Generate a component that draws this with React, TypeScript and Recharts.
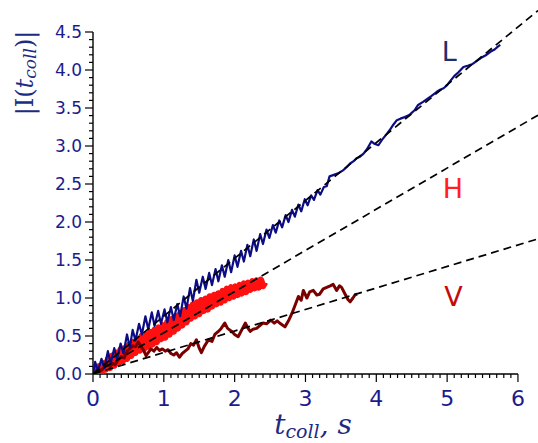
import React from 'react';
import { LineChart, Line, XAxis, YAxis, ReferenceLine, ReferenceDot } from 'recharts';

// |I(t_coll)| traces for the three orientations: [t, value]
const seriesL: [number, number][] = [
  [0.0, 0.0], [0.03, 0.16], [0.07, 0.04], [0.12, 0.2], [0.16, 0.08], [0.21, 0.3], [0.25, 0.14],
  [0.3, 0.34], [0.34, 0.19], [0.39, 0.4], [0.43, 0.27], [0.48, 0.52], [0.52, 0.35], [0.56, 0.58],
  [0.6, 0.44], [0.65, 0.66], [0.69, 0.52], [0.74, 0.76], [0.78, 0.59], [0.83, 0.81], [0.87, 0.63],
  [0.92, 0.83], [0.96, 0.66], [1.01, 0.85], [1.05, 0.68], [1.1, 0.88], [1.14, 0.71], [1.19, 0.92],
  [1.23, 0.76], [1.28, 1.02], [1.32, 0.86], [1.37, 1.13], [1.41, 0.96], [1.46, 1.24], [1.5, 1.07],
  [1.55, 1.28], [1.59, 1.12], [1.64, 1.33], [1.68, 1.17], [1.73, 1.38], [1.77, 1.22], [1.82, 1.43],
  [1.86, 1.28], [1.91, 1.5], [1.95, 1.34], [2.0, 1.56], [2.04, 1.41], [2.09, 1.62], [2.13, 1.48],
  [2.18, 1.7], [2.22, 1.55], [2.27, 1.77], [2.31, 1.62], [2.36, 1.84], [2.4, 1.71], [2.45, 1.9],
  [2.49, 1.79], [2.54, 1.96], [2.58, 1.86], [2.63, 2.02], [2.67, 1.93], [2.72, 2.09], [2.76, 2.0],
  [2.81, 2.16], [2.85, 2.07], [2.9, 2.23], [2.94, 2.14], [2.99, 2.3], [3.03, 2.22], [3.08, 2.35],
  [3.12, 2.29], [3.17, 2.42], [3.21, 2.36], [3.26, 2.46], [3.3, 2.47], [3.34, 2.6], [3.4, 2.62],
  [3.46, 2.64], [3.53, 2.68], [3.58, 2.72], [3.63, 2.77], [3.68, 2.8], [3.72, 2.84], [3.77, 2.86],
  [3.82, 2.9], [3.87, 2.96], [3.93, 3.06], [3.97, 3.03], [4.03, 3.01], [4.08, 3.08], [4.14, 3.15],
  [4.19, 3.21], [4.24, 3.28], [4.29, 3.34], [4.34, 3.36], [4.4, 3.38], [4.45, 3.4], [4.48, 3.42],
  [4.54, 3.47], [4.59, 3.54], [4.66, 3.58], [4.72, 3.62], [4.78, 3.66], [4.85, 3.71], [4.9, 3.74],
  [4.95, 3.76], [5.0, 3.8], [5.04, 3.85], [5.1, 3.92], [5.16, 3.97], [5.23, 4.04], [5.3, 4.06],
  [5.36, 4.08], [5.42, 4.12], [5.48, 4.16], [5.54, 4.19], [5.61, 4.24], [5.67, 4.27], [5.72, 4.31],
  [5.75, 4.33],
];

const seriesH: [number, number][] = [
  [0.0, 0.0], [0.03, 0.06], [0.06, 0.0], [0.09, 0.1], [0.12, 0.03], [0.15, 0.14], [0.18, 0.06],
  [0.21, 0.19], [0.24, 0.08], [0.27, 0.24], [0.3, 0.11], [0.33, 0.28], [0.36, 0.15], [0.39, 0.32],
  [0.42, 0.17], [0.45, 0.34], [0.48, 0.2], [0.51, 0.38], [0.54, 0.24], [0.57, 0.42], [0.6, 0.28],
  [0.63, 0.46], [0.66, 0.31], [0.69, 0.5], [0.72, 0.33], [0.75, 0.52], [0.78, 0.36], [0.81, 0.55],
  [0.84, 0.39], [0.87, 0.58], [0.9, 0.42], [0.93, 0.61], [0.96, 0.46], [0.99, 0.64], [1.02, 0.48],
  [1.05, 0.68], [1.08, 0.52], [1.11, 0.72], [1.14, 0.56], [1.17, 0.76], [1.2, 0.6], [1.23, 0.79],
  [1.26, 0.64], [1.29, 0.84], [1.32, 0.68], [1.35, 0.88], [1.38, 0.73], [1.41, 0.91], [1.44, 0.76],
  [1.47, 0.94], [1.5, 0.79], [1.53, 0.97], [1.56, 0.83], [1.59, 0.99], [1.62, 0.85], [1.65, 1.02],
  [1.68, 0.89], [1.71, 1.04], [1.74, 0.92], [1.77, 1.06], [1.8, 0.94], [1.83, 1.09], [1.86, 0.97],
  [1.89, 1.12], [1.92, 1.0], [1.95, 1.14], [1.98, 1.02], [2.01, 1.15], [2.04, 1.04], [2.07, 1.17],
  [2.1, 1.06], [2.13, 1.19], [2.16, 1.08], [2.19, 1.2], [2.22, 1.11], [2.25, 1.22], [2.28, 1.13],
  [2.31, 1.23], [2.34, 1.14], [2.37, 1.24], [2.4, 1.16], [2.43, 1.21],
];

const seriesV: [number, number][] = [
  [0.0, 0.0], [0.04, 0.04], [0.08, 0.06], [0.12, 0.05], [0.16, 0.09], [0.2, 0.12], [0.24, 0.1],
  [0.28, 0.14], [0.31, 0.12], [0.35, 0.18], [0.4, 0.23], [0.44, 0.21], [0.48, 0.3], [0.52, 0.33],
  [0.56, 0.37], [0.6, 0.36], [0.64, 0.42], [0.68, 0.36], [0.71, 0.32], [0.75, 0.24], [0.78, 0.28],
  [0.82, 0.33], [0.86, 0.3], [0.9, 0.35], [0.94, 0.31], [0.98, 0.33], [1.02, 0.3], [1.06, 0.32],
  [1.1, 0.27], [1.14, 0.25], [1.18, 0.28], [1.22, 0.22], [1.26, 0.27], [1.3, 0.3], [1.34, 0.33],
  [1.38, 0.4], [1.42, 0.38], [1.46, 0.45], [1.5, 0.34], [1.53, 0.28], [1.57, 0.36], [1.63, 0.45],
  [1.68, 0.43], [1.72, 0.52], [1.77, 0.56], [1.81, 0.6], [1.86, 0.67], [1.9, 0.6], [1.96, 0.56],
  [2.0, 0.52], [2.05, 0.49], [2.1, 0.58], [2.15, 0.67], [2.19, 0.6], [2.22, 0.56], [2.26, 0.59],
  [2.31, 0.6], [2.36, 0.64], [2.4, 0.67], [2.45, 0.66], [2.51, 0.71], [2.56, 0.67], [2.6, 0.7],
  [2.65, 0.66], [2.71, 0.62], [2.76, 0.7], [2.81, 0.8], [2.86, 0.92], [2.9, 1.02], [2.94, 0.97],
  [2.97, 1.1], [3.02, 1.0], [3.06, 1.08], [3.11, 1.1], [3.16, 1.04], [3.2, 1.05], [3.25, 1.12],
  [3.3, 1.14], [3.35, 1.16], [3.39, 1.18], [3.44, 1.1], [3.48, 1.16], [3.51, 1.14], [3.56, 1.05],
  [3.6, 0.98], [3.63, 0.95], [3.67, 1.0], [3.7, 1.04], [3.73, 1.05],
];

// Linear fits through the origin (slope per second)
const fitSlopes = [0.761, 0.542, 0.283];
const fitRange = [0, 6.283];

// Series labels: [text, t, value, colour]
const seriesLabels: [string, number, number, string][] = [
  ['L', 5.03, 4.24, '#1f2e6e'],
  ['H', 5.08, 2.44, '#ff1f1f'],
  ['V', 5.09, 1.02, '#c40a0a'],
];

const xMajorTicks = [0, 1, 2, 3, 4, 5, 6];
const yMajorTicks = [0.0, 0.5, 1.0, 1.5, 2.0, 2.5, 3.0, 3.5, 4.0, 4.5];
const xAllTicks = Array.from({ length: 61 }, (_, i) => i / 10);
const yAllTicks = Array.from({ length: 46 }, (_, i) => i / 10);

const X_DOMAIN: [number, number] = [0, 6.283];
const Y_DOMAIN: [number, number] = [0, 4.921];

const TICK_COLOR = '#1b1b8f';
const TITLE_COLOR = '#1c2c80';

const toPoints = (rows: [number, number][]) => rows.map(([t, v]) => ({ t, v }));

const XTick = (props: any) => {
  const { x, y, payload } = props;
  const v = payload.value as number;
  const major = xMajorTicks.some((m) => Math.abs(m - v) < 1e-6);
  return (
    <g>
      <line x1={x} x2={x} y1={y} y2={y + (major ? 8 : 4)} stroke="#000" strokeWidth={1.2} />
      {major && (
        <text x={x} y={y + 32} textAnchor="middle" fontFamily="DejaVu Sans" fontSize={22} fill={TICK_COLOR}>
          {Math.round(v)}
        </text>
      )}
    </g>
  );
};

const YTick = (props: any) => {
  const { x, y, payload } = props;
  const v = payload.value as number;
  const major = yMajorTicks.some((m) => Math.abs(m - v) < 1e-6);
  return (
    <g>
      <line x1={x} x2={x - (major ? 8 : 4)} y1={y} y2={y} stroke="#000" strokeWidth={1.2} />
      {major && (
        <text x={x - 11} y={y} dy="0.36em" textAnchor="end" fontFamily="DejaVu Sans" fontSize={17} fill={TICK_COLOR}>
          {v.toFixed(1)}
        </text>
      )}
    </g>
  );
};

const XTitle = (props: any) => {
  const vb = props.viewBox || { x: 93, y: 374 };
  const cx = vb.x + 220;
  const cy = vb.y + 60;
  return (
    <text x={cx} y={cy} textAnchor="middle" fontFamily="DejaVu Serif" fontStyle="italic" fontSize={28} fill={TITLE_COLOR}>
      <tspan>t</tspan>
      <tspan fontSize={19} dy={4}>coll</tspan>
      <tspan dy={-4}>, s</tspan>
    </text>
  );
};

const YTitle = () => {
  const cx = 25;
  const cy = 73;
  return (
    <text
      x={cx}
      y={cy}
      transform={`rotate(-90 ${cx} ${cy})`}
      textAnchor="middle"
      dominantBaseline="central"
      fontFamily="DejaVu Serif"
      fontSize={24}
      fill={TITLE_COLOR}
    >
      <tspan>|I(</tspan>
      <tspan fontStyle="italic">t</tspan>
      <tspan fontStyle="italic" fontSize={17} dy={5}>coll</tspan>
      <tspan dy={-5}>)|</tspan>
    </text>
  );
};

export default function App() {
  const dataL = toPoints(seriesL);
  const dataH = toPoints(seriesH);
  const dataV = toPoints(seriesV);
  const fits = fitSlopes.map((k) => fitRange.map((t) => ({ t, v: k * t })));

  return (
    <div style={{ position: 'absolute', left: 0, top: 0, width: 538, height: 443, background: '#fff' }}>
      <LineChart width={538} height={443} margin={{ top: 0, right: 0, bottom: 0, left: 0 }}>
        <XAxis
          type="number"
          dataKey="t"
          domain={X_DOMAIN}
          allowDataOverflow
          ticks={xAllTicks}
          interval={0}
          tick={<XTick />}
          tickLine={false}
          tickSize={0}
          tickMargin={0}
          axisLine={false}
          height={69}
          label={<XTitle />}
        />
        <YAxis
          type="number"
          dataKey="v"
          domain={Y_DOMAIN}
          allowDataOverflow
          ticks={yAllTicks}
          interval={0}
          tick={<YTick />}
          tickLine={false}
          tickSize={0}
          tickMargin={0}
          axisLine={false}
          width={93}
          label={<YTitle />}
        />
        <ReferenceLine segment={[{ x: 0, y: 0 }, { x: 6, y: 0 }]} stroke="#000" strokeWidth={1.4} ifOverflow="visible" />
        <ReferenceLine segment={[{ x: 0, y: 0 }, { x: 0, y: 4.5 }]} stroke="#000" strokeWidth={1.4} ifOverflow="visible" />
        <Line data={dataH} dataKey="v" stroke="#ff1010" strokeWidth={6.5} dot={false} activeDot={false} isAnimationActive={false} strokeLinejoin="round" />
        <Line data={dataV} dataKey="v" stroke="#7a0000" strokeWidth={3} dot={false} activeDot={false} isAnimationActive={false} strokeLinejoin="round" />
        <Line data={dataL} dataKey="v" stroke="#0c0c84" strokeWidth={2.2} dot={false} activeDot={false} isAnimationActive={false} strokeLinejoin="round" />
        {fits.map((d, i) => (
          <Line key={i} data={d} dataKey="v" stroke="#000" strokeWidth={1.7} strokeDasharray="8 5" dot={false} activeDot={false} isAnimationActive={false} />
        ))}
        {seriesLabels.map(([text, t, v, color]) => (
          <ReferenceDot
            key={text}
            x={t}
            y={v}
            r={0}
            fill="none"
            stroke="none"
            ifOverflow="visible"
            label={{ value: text, position: 'center', fill: color, fontSize: 27, fontFamily: 'DejaVu Sans' }}
          />
        ))}
      </LineChart>
    </div>
  );
}
